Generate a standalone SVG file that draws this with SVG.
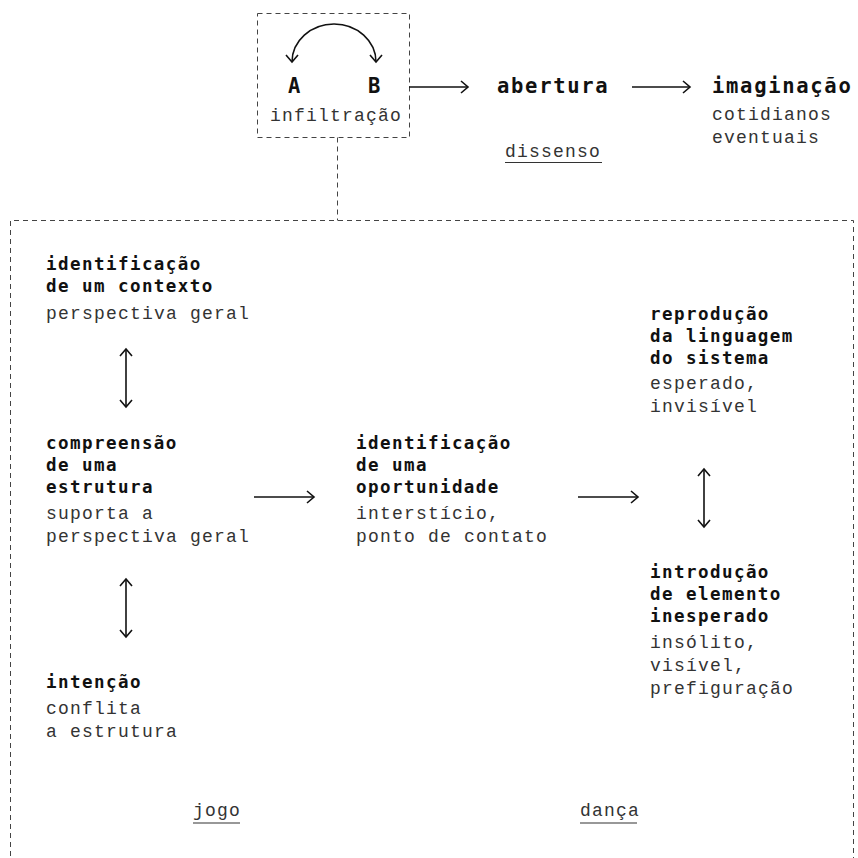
<svg xmlns="http://www.w3.org/2000/svg" width="858" height="858" viewBox="0 0 858 858">
<defs>
<style>
.b{font-family:"DejaVu Sans Mono","Liberation Mono",monospace;font-weight:bold;font-size:17.5px;letter-spacing:1.45px;fill:#111}
.bl{font-family:"DejaVu Sans Mono","Liberation Mono",monospace;font-weight:bold;font-size:20.5px;letter-spacing:1.7px;fill:#111}
.l{font-family:"Liberation Mono","DejaVu Sans Mono",monospace;font-size:18px;letter-spacing:1.2px;fill:#333}
.dash{fill:none;stroke:#444;stroke-width:1;stroke-dasharray:5 4}
.ar{fill:none;stroke:#111;stroke-width:1.6}
.ul{stroke:#333;stroke-width:1.2}
</style>
<marker id="h" viewBox="-10 -8 12 16" refX="0" refY="0" markerWidth="12" markerHeight="16" markerUnits="userSpaceOnUse" orient="auto-start-reverse">
<path d="M-7,-6 L0,0 L-7,6" fill="none" stroke="#111" stroke-width="1.6"/>
</marker>
</defs>
<rect width="858" height="858" fill="#fff"/>

<g id="containers">
<rect class="dash" x="257.5" y="13.5" width="152" height="124"/>
<path class="dash" d="M10.5,865 V220.5 H853.5 V865"/>
</g>

<g id="connectors">
<path class="dash" d="M337.5,137.5 V220.5"/>
<path class="ar" d="M292,62 A42,38 0 0 1 376,62" marker-start="url(#h)" marker-end="url(#h)"/>
<line class="ar" x1="409" y1="87" x2="468" y2="87" marker-end="url(#h)"/>
<line class="ar" x1="632" y1="87" x2="690" y2="87" marker-end="url(#h)"/>
<line class="ar" x1="126" y1="349" x2="126" y2="407" marker-start="url(#h)" marker-end="url(#h)"/>
<line class="ar" x1="126" y1="579" x2="126" y2="637" marker-start="url(#h)" marker-end="url(#h)"/>
<line class="ar" x1="254" y1="497" x2="314" y2="497" marker-end="url(#h)"/>
<line class="ar" x1="578" y1="497" x2="638" y2="497" marker-end="url(#h)"/>
<line class="ar" x1="704" y1="469" x2="704" y2="527" marker-start="url(#h)" marker-end="url(#h)"/>
</g>

<g id="infiltracao">
<text class="bl" x="288" y="93">A</text>
<text class="bl" x="368" y="93">B</text>
<text class="l" x="270" y="121">infiltração</text>
</g>

<g id="abertura">
<text class="bl" x="497" y="93">abertura</text>
</g>

<g id="dissenso">
<text class="l" x="505" y="157">dissenso</text>
<line class="ul" x1="505" y1="162.5" x2="602" y2="162.5"/>
</g>

<g id="imaginacao">
<text class="bl" x="712" y="93">imaginação</text>
<text class="l" x="712" y="120">cotidianos</text>
<text class="l" x="712" y="143">eventuais</text>
</g>

<g id="contexto">
<text class="b" x="46" y="270">identificação</text>
<text class="b" x="46" y="292">de um contexto</text>
<text class="l" x="46" y="319">perspectiva geral</text>
</g>

<g id="estrutura">
<text class="b" x="46" y="449">compreensão</text>
<text class="b" x="46" y="471">de uma</text>
<text class="b" x="46" y="493">estrutura</text>
<text class="l" x="46" y="519">suporta a</text>
<text class="l" x="46" y="542">perspectiva geral</text>
</g>

<g id="intencao">
<text class="b" x="46" y="688">intenção</text>
<text class="l" x="46" y="714">conflita</text>
<text class="l" x="46" y="737">a estrutura</text>
</g>

<g id="oportunidade">
<text class="b" x="356" y="449">identificação</text>
<text class="b" x="356" y="471">de uma</text>
<text class="b" x="356" y="493">oportunidade</text>
<text class="l" x="356" y="519">interstício,</text>
<text class="l" x="356" y="542">ponto de contato</text>
</g>

<g id="reproducao">
<text class="b" x="650" y="320">reprodução</text>
<text class="b" x="650" y="342">da linguagem</text>
<text class="b" x="650" y="364">do sistema</text>
<text class="l" x="650" y="389">esperado,</text>
<text class="l" x="650" y="412">invisível</text>
</g>

<g id="introducao">
<text class="b" x="650" y="578">introdução</text>
<text class="b" x="650" y="600">de elemento</text>
<text class="b" x="650" y="622">inesperado</text>
<text class="l" x="650" y="648">insólito,</text>
<text class="l" x="650" y="671">visível,</text>
<text class="l" x="650" y="694">prefiguração</text>
</g>

<g id="jogo">
<text class="l" x="193" y="816">jogo</text>
<line class="ul" x1="193" y1="823" x2="240" y2="823"/>
</g>

<g id="danca">
<text class="l" x="580" y="816">dança</text>
<line class="ul" x1="580" y1="823" x2="637" y2="823"/>
</g>
</svg>
